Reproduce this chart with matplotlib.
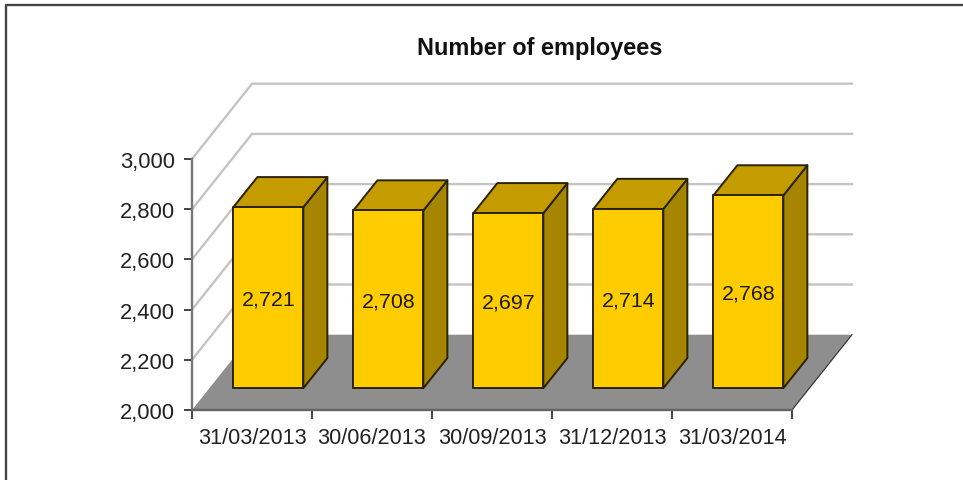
import matplotlib
matplotlib.use('Agg')
import matplotlib.pyplot as plt
from matplotlib.patches import Polygon
from matplotlib.lines import Line2D

plt.rcParams['font.family'] = ['Liberation Sans', 'DejaVu Sans']

# data
dates = ['31/03/2013', '30/06/2013', '30/09/2013', '31/12/2013', '31/03/2014']
employees = [2721, 2708, 2697, 2714, 2768]
y_ticks = [2000, 2200, 2400, 2600, 2800, 3000]
title = 'Number of employees'

W, H = 963, 481
fig = plt.figure(figsize=(W / 100, H / 100), dpi=100)
ax = fig.add_axes([192 / W, 1 - 411 / H, 600 / W, 251 / H])
ax.set_xlim(0, len(dates))
ax.set_ylim(y_ticks[0], y_ticks[-1])

# fake 3D: depth 0..1 moves a point to the right and up
DX = 0.5
DY = 300


def pt(x, y, d):
    return (x + DX * d, y + DY * d)


def poly(points, **kw):
    kw.setdefault('clip_on', False)
    ax.add_patch(Polygon(points, closed=True, **kw))


n = len(dates)
base = y_ticks[0]

# floor
poly([pt(0, base, 0), pt(n, base, 0), pt(n, base, 1), pt(0, base, 1)],
     facecolor='#8e8e8e', edgecolor='none', zorder=1)
ax.add_line(Line2D(*zip(pt(n, base, 0), pt(n, base, 1)), color='#3a3a3a', lw=0.9,
                   clip_on=False, zorder=1.5))

# grid lines on the side and back wall
for v in y_ticks[1:]:
    p = [pt(0, v, 0), pt(0, v, 1), pt(n, v, 1)]
    ax.add_line(Line2D(*zip(*p), color='#c4c4c4', lw=1.7, clip_on=False, zorder=1))

# bars
bar_w = 0.583
d0, d1 = 0.29, 0.69
edge = '#2b2200'
for i, v in enumerate(employees):
    x0 = i + 0.2
    x1 = x0 + bar_w
    poly([pt(x1, base, d0), pt(x1, base, d1), pt(x1, v, d1), pt(x1, v, d0)],
         facecolor='#a68500', edgecolor=edge, lw=1.4, joinstyle='round', zorder=3)
    poly([pt(x0, v, d0), pt(x1, v, d0), pt(x1, v, d1), pt(x0, v, d1)],
         facecolor='#c49c00', edgecolor=edge, lw=1.4, joinstyle='round', zorder=3)
    poly([pt(x0, base, d0), pt(x1, base, d0), pt(x1, v, d0), pt(x0, v, d0)],
         facecolor='#ffcc00', edgecolor=edge, lw=1.4, joinstyle='round', zorder=4)
    cx, cy = pt((x0 + x1) / 2, (base + v) / 2, d0)
    ax.annotate(f'{v:,}', (cx, cy), xytext=(0, -1), textcoords='offset points',
                ha='center', va='center', fontsize=15.4, color='#1a1a00', zorder=5)

# axes
ax.patch.set_visible(False)
for s in ['top', 'right']:
    ax.spines[s].set_visible(False)
ax.spines['left'].set_color('#777777')
ax.spines['left'].set_linewidth(1.7)
ax.spines['bottom'].set_color('#666666')
ax.spines['bottom'].set_linewidth(1.7)
ax.spines['left'].set_zorder(6)
ax.spines['bottom'].set_zorder(6)

ax.set_yticks(y_ticks)
ax.set_yticklabels([f'{v:,}' for v in y_ticks])
ax.set_xticks(range(n + 1))
ax.set_xticks([i + 0.5 for i in range(n)], minor=True)
ax.set_xticklabels([])
ax.set_xticklabels(dates, minor=True)
ax.tick_params(axis='y', length=6, width=1.2, color='#222222', labelsize=15.8,
               labelcolor='#222222', pad=6.5)
ax.tick_params(axis='x', which='major', length=6.5, width=1.2, color='#222222')
ax.tick_params(axis='x', which='minor', length=0, labelsize=15.6,
               labelcolor='#222222', pad=12)

# title and picture frame
fig.text(540 / W, 1 - 48.5 / H, title, ha='center', va='center', fontsize=16.9,
         fontweight='bold', color='#111111')
fig.add_artist(Line2D([5.5 / W, 5.5 / W, 1], [0, 1 - 5.5 / H, 1 - 5.5 / H],
                      color='#444444', lw=1.7, transform=fig.transFigure))

fig.savefig('out.png', dpi=100)
